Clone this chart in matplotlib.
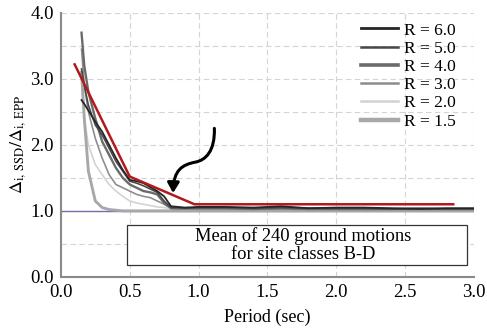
import numpy as np
import matplotlib
matplotlib.use("Agg")
import matplotlib.pyplot as plt
from matplotlib.patches import Rectangle, FancyArrowPatch
from matplotlib.path import Path

plt.rcParams["font.family"] = ["Liberation Serif", "DejaVu Serif"]
plt.rcParams["mathtext.fontset"] = "stix"

# Data
period = [0.15, 0.17, 0.2, 0.25, 0.3, 0.35, 0.4, 0.45, 0.5, 0.55, 0.6, 0.65, 0.7,
          0.75, 0.8, 0.85, 0.9, 1.0, 1.2, 1.4, 1.6, 1.8, 2.0, 2.2, 2.4, 2.6, 2.8, 3.0]

r60 = [2.68, 2.62, 2.52, 2.35, 2.2, 2.0, 1.8, 1.62, 1.47, 1.45, 1.42, 1.36, 1.3,
       1.22, 1.07, 1.06, 1.05, 1.06, 1.06, 1.05, 1.07, 1.04, 1.05, 1.05, 1.04, 1.03, 1.04, 1.04]
r50 = [3.15, 2.9, 2.6, 2.3, 2.15, 1.95, 1.75, 1.6, 1.45, 1.42, 1.38, 1.33, 1.28,
       1.15, 1.05, 1.05, 1.04, 1.05, 1.05, 1.04, 1.05, 1.04, 1.04, 1.04, 1.03, 1.04, 1.03, 1.03]
r40 = [3.7, 3.2, 2.8, 2.4, 2.05, 1.85, 1.65, 1.5, 1.4, 1.35, 1.3, 1.28, 1.25,
       1.12, 1.04, 1.04, 1.04, 1.04, 1.04, 1.03, 1.04, 1.03, 1.03, 1.03, 1.03, 1.03, 1.03, 1.03]
r30 = [3.45, 2.9, 2.5, 2.1, 1.8, 1.55, 1.4, 1.35, 1.3, 1.25, 1.22, 1.2, 1.15,
       1.1, 1.04, 1.03, 1.03, 1.03, 1.03, 1.02, 1.03, 1.02, 1.02, 1.02, 1.02, 1.02, 1.02, 1.02]
r20 = [3.0, 2.4, 2.0, 1.7, 1.55, 1.4, 1.3, 1.22, 1.15, 1.12, 1.1, 1.08, 1.06,
       1.05, 1.03, 1.03, 1.02, 1.02, 1.02, 1.02, 1.02, 1.01, 1.01, 1.01, 1.01, 1.01, 1.01, 1.01]
r15 = [3.1, 2.4, 1.6, 1.15, 1.05, 1.02, 1.01, 1.0, 1.0, 1.0, 1.0, 1.0, 1.0,
       1.0, 1.0, 1.0, 1.0, 1.0, 1.0, 1.0, 1.0, 1.0, 1.0, 1.0, 1.0, 1.0, 1.0, 1.0]

series = [r60, r50, r40, r30, r20, r15]
labels = ["R = 6.0", "R = 5.0", "R = 4.0", "R = 3.0", "R = 2.0", "R = 1.5"]
colors = ["#262626", "#474747", "#6a6a6a", "#8c8c8c", "#d2d2d2", "#a8a8a8"]
widths = [2.0, 1.8, 2.6, 1.8, 1.8, 3.2]

# Proposed design curve
red_x = [0.1, 0.5, 0.97, 2.85]
red_y = [3.22, 1.52, 1.1, 1.1]

# Plot
fig = plt.figure(figsize=(4.87, 3.3), dpi=100)
ax = fig.add_axes([0.125, 0.161, 0.848, 0.8])

ax.set_xlim(0, 3.0)
ax.set_ylim(0, 4.0)
ax.set_xticks(np.arange(0, 3.01, 0.5))
ax.set_xticklabels([f"{v:.1f}" for v in np.arange(0, 3.01, 0.5)], fontsize=13.5)
ax.set_yticks([0, 1, 2, 3, 4])
ax.set_yticklabels(["0.0", "1.0", "2.0", "3.0", "4.0"], fontsize=13.5)
ax.set_yticks(np.arange(0.5, 4, 1.0), minor=True)
ax.tick_params(which="both", length=0, pad=5)

ax.grid(True, which="both", color="#d4d4d4", linestyle=(0, (5, 3)), linewidth=0.8)
ax.set_axisbelow(True)
for s in ["top", "right"]:
    ax.spines[s].set_visible(False)
for s in ["left", "bottom"]:
    ax.spines[s].set_color("#8a8a8a")
    ax.spines[s].set_linewidth(1.5)

ax.axhline(1.0, color="#6f6fb0", linewidth=1.0, zorder=2)

# draw light ones first so dark ones sit on top
for i in [4, 5, 3, 2, 1, 0]:
    ax.plot(period, series[i], color=colors[i], linewidth=widths[i] * 0.65, zorder=3)
handles = [plt.Line2D([], [], color=c, linewidth=w) for c, w in zip(colors, widths)]

ax.plot(red_x, red_y, color="#b3191c", linewidth=1.8, zorder=4)

leg = ax.legend(handles, labels, loc="upper right", bbox_to_anchor=(0.985, 1.01),
                frameon=False, fontsize=12.5, handlelength=2.1, handletextpad=0.35,
                labelspacing=0.12, borderaxespad=0.3)

# wavy arrow
verts = [(1.115, 2.25), (1.12, 1.9), (1.05, 1.77), (0.98, 1.74),
         (0.88, 1.70), (0.82, 1.62), (0.815, 1.27)]
codes = [Path.MOVETO, Path.CURVE4, Path.CURVE4, Path.CURVE4,
         Path.CURVE4, Path.CURVE4, Path.CURVE4]
arrow = FancyArrowPatch(path=Path(verts, codes), arrowstyle="-|>,head_length=6,head_width=3.5",
                        color="black", linewidth=2.2, zorder=6)
ax.add_patch(arrow)

# annotation box
ax.add_patch(Rectangle((0.48, 0.18), 2.47, 0.61, facecolor="white",
                       edgecolor="#333333", linewidth=0.9, zorder=7))
ax.text(1.76, 0.485, "Mean of 240 ground motions\nfor site classes B-D",
        ha="center", va="center", fontsize=13.3, linespacing=1.1, zorder=8)

ax.set_xlabel("Period (sec)", fontsize=13, labelpad=6)
ax.set_ylabel(r"$\Delta_{\rm i,\,SSD}/\Delta_{\rm i,\,EPP}$", fontsize=13, labelpad=2)

fig.savefig("out.png", dpi=100)
